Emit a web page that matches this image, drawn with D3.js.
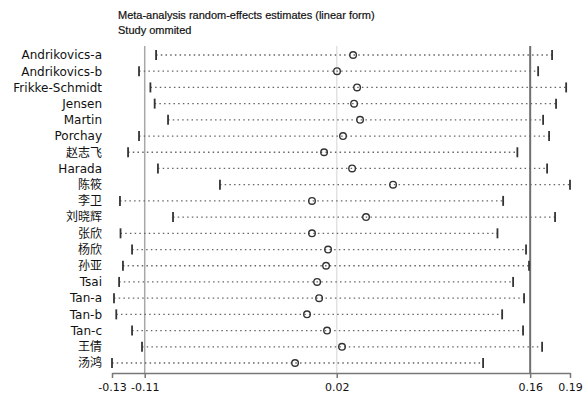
<!DOCTYPE html>
<html>
<head>
<meta charset="utf-8">
<script src="https://cdn.jsdelivr.net/npm/d3@7/dist/d3.min.js"></script>
<style>
  html, body { margin: 0; padding: 0; background: #fff; }
  svg { display: block; }
</style>
</head>
<body>
<svg id="chart" width="584" height="398"></svg>
<script>
// ---- data ----
const studies = ["Andrikovics-a","Andrikovics-b","Frikke-Schmidt","Jensen","Martin","Porchay",
  "赵志飞","Harada","陈筱","李卫","刘晓辉","张欣","杨欣","孙亚","Tsai","Tan-a","Tan-b","Tan-c","王倩","汤鸿"];
const estimate = [0.0355,0.0242,0.0383,0.0362,0.0404,0.0284,0.0151,0.0348,0.0636,0.0066,
  0.0446,0.0066,0.0179,0.0165,0.0102,0.0116,0.0031,0.0172,0.0277,-0.0053];
const lowerCI = [-0.103,-0.115,-0.107,-0.104,-0.0946,-0.115,-0.1227,-0.1017,-0.0581,-0.1284,
  -0.0911,-0.128,-0.1199,-0.1263,-0.129,-0.1326,-0.131,-0.1199,-0.1129,-0.134];
const upperCI = [0.1754,0.1656,0.1853,0.1782,0.1691,0.1733,0.151,0.1719,0.188,0.141,
  0.1775,0.137,0.1571,0.1592,0.148,0.1557,0.1403,0.155,0.1684,0.1269];
const overall = { lower: -0.111, est: 0.024, upper: 0.160 };
const titleLines = ["Meta-analysis random-effects estimates (linear form)", "Study ommited"];

// ---- layout ----
const svg = d3.select("#chart");
const xMin = d3.min(lowerCI), xMax = d3.max(upperCI);
const x = d3.scaleLinear().domain([xMin, xMax]).range([112, 570]);
const y = d3.scalePoint().domain(studies).range([55, 363]);
const axisY = 373, topY = 46;

// title
svg.selectAll("text.title").data(titleLines).enter().append("text")
  .attr("x", 118).attr("y", (d, i) => 19 + i * 15)
  .attr("font-family", "Liberation Sans, Arial, sans-serif")
  .attr("font-size", 11).attr("fill", "#111").attr("stroke", "#111").attr("stroke-width", 0.2)
  .text(d => d);

// reference vertical lines
const refs = [
  { v: overall.lower, c: "#a8a8a8", w: 1.5 },
  { v: overall.est, c: "#e2e2e2", w: 1.5 },
  { v: overall.upper, c: "#707070", w: 2 }
];
svg.selectAll("line.ref").data(refs).enter().append("line")
  .attr("x1", d => x(d.v)).attr("x2", d => x(d.v))
  .attr("y1", topY).attr("y2", axisY)
  .attr("stroke", d => d.c).attr("stroke-width", d => d.w);

// rows
const rows = studies.map((s, i) => ({ s, est: estimate[i], lo: lowerCI[i], hi: upperCI[i] }));
const g = svg.append("g");
g.selectAll("line.ci").data(rows).enter().append("line")
  .attr("x1", d => x(d.lo)).attr("x2", d => x(d.hi))
  .attr("y1", d => y(d.s)).attr("y2", d => y(d.s))
  .attr("stroke", "#666").attr("stroke-width", 1.3)
  .attr("stroke-dasharray", "1.5,3.2");
["lo", "hi"].forEach(k => {
  g.selectAll("line.cap" + k).data(rows).enter().append("line")
    .attr("x1", d => x(d[k])).attr("x2", d => x(d[k]))
    .attr("y1", d => y(d.s) - 5).attr("y2", d => y(d.s) + 5)
    .attr("stroke", "#333").attr("stroke-width", 1.8);
});
g.selectAll("circle.est").data(rows).enter().append("circle")
  .attr("cx", d => x(d.est)).attr("cy", d => y(d.s)).attr("r", 3.3)
  .attr("fill", "none").attr("stroke", "#333").attr("stroke-width", 1.4);

// study labels
svg.selectAll("text.lab").data(studies).enter().append("text")
  .attr("x", 102).attr("y", d => y(d)).attr("dy", "0.36em")
  .attr("text-anchor", "end")
  .attr("font-family", "DejaVu Sans, Noto Sans CJK SC, sans-serif")
  .attr("font-size", 12).attr("fill", "#111").text(d => d);

// x axis
const fmt = v => d3.format(".2f")(v).replace("−", "-");
const tickVals = [xMin, overall.lower, overall.est, overall.upper, xMax];
const axis = d3.axisBottom(x).tickValues(tickVals).tickFormat(fmt)
  .tickSize(5).tickSizeOuter(0);
const ax = svg.append("g").attr("transform", `translate(0,${axisY})`).call(axis);
ax.select(".domain").attr("stroke", "#777").attr("stroke-width", 1.5);
ax.selectAll(".tick line").attr("stroke", "#777").attr("stroke-width", 1.5);
ax.selectAll(".tick text").attr("font-family", "DejaVu Sans, sans-serif")
  .attr("font-size", 11).attr("fill", "#111").attr("dy", "0.9em");
</script>
</body>
</html>
